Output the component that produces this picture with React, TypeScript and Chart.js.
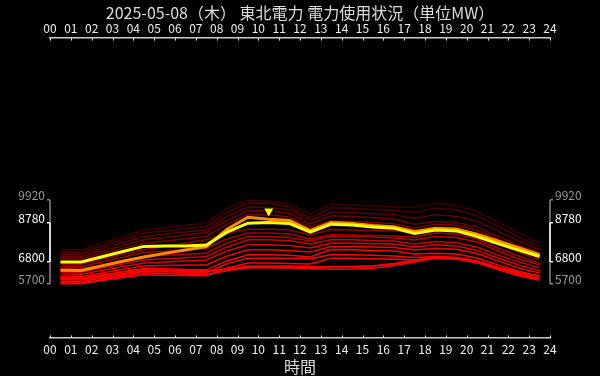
import { useEffect, useRef } from "react";
import { Chart, registerables } from "chart.js";

Chart.register(...registerables);

const TITLE = "2025-05-08（木） 東北電力 電力使用状況（単位MW）";
const X_TITLE = "時間";
const FONT = "'Noto Sans CJK JP', 'Noto Sans', sans-serif";

const hourLabels = ["00","01","02","03","04","05","06","07","08","09","10","11","12","13","14","15","16","17","18","19","20","21","22","23","24"];
const slotHours = [0.5,1.5,2.5,3.5,4.5,5.5,6.5,7.5,8.5,9.5,10.5,11.5,12.5,13.5,14.5,15.5,16.5,17.5,18.5,19.5,20.5,21.5,22.5,23.5];

const today = [6800,6800,7060,7320,7580,7600,7600,7650,8300,8750,8780,8730,8300,8700,8660,8560,8500,8230,8400,8360,8080,7720,7390,7070];
const yesterday = [6380,6370,6600,6830,7050,7230,7400,7570,8450,9050,8950,8880,8380,8780,8730,8630,8570,8330,8490,8460,8200,7850,7520,7170];

const past01 = [7410,7400,7730,8070,8410,8520,8640,8750,9500,9920,9850,9720,9220,9700,9670,9620,9570,9540,9750,9640,9350,8800,8250,7740];
const past02 = [7290,7280,7600,7930,8250,8360,8470,8580,9300,9750,9750,9560,9000,9520,9500,9450,9400,9300,9500,9420,9120,8600,8050,7570];
const past03 = [7190,7180,7480,7780,8080,8190,8300,8410,9100,9550,9550,9420,8880,9300,9280,9230,9180,9000,9170,9100,8850,8350,7850,7410];
const past04 = [7070,7060,7340,7620,7910,8030,8150,8280,8900,9380,9380,9250,8700,9120,9080,9020,8960,8700,8830,8780,8550,8100,7650,7240];
const past05 = [6960,6950,7210,7480,7740,7850,7970,8080,8700,9170,9170,9050,8550,8860,8830,8780,8720,8500,8700,8650,8380,7950,7450,7000];
const past06 = [6690,6680,6930,7170,7410,7580,7750,7910,8250,8450,8450,8400,8150,8430,8410,8380,8350,8300,8500,8450,8200,7750,7300,6900];
const past07 = [6570,6560,6800,7040,7270,7340,7410,7490,7950,8250,8250,8200,7950,8180,8160,8130,8100,8050,8250,8200,7950,7500,7100,6740];
const past08 = [6450,6440,6660,6870,7070,7130,7190,7240,7750,8080,8080,8030,7850,8090,8080,8050,8000,7900,8080,8030,7800,7350,6950,6650];
const past09 = [6290,6280,6490,6700,6900,6960,7010,7070,7550,7910,7910,7870,7700,7920,7910,7880,7850,7700,7830,7780,7550,7150,6800,6490];
const past10 = [6190,6180,6370,6560,6740,6790,6850,6900,7350,7660,7660,7630,7500,7750,7740,7720,7700,7550,7660,7600,7380,7000,6650,6350];
const past11 = [6070,6060,6240,6420,6600,6620,6640,6650,7100,7410,7410,7380,7300,7580,7570,7550,7530,7400,7490,7440,7220,6850,6500,6240];
const past12 = [5950,5940,6120,6300,6470,6450,6420,6400,6850,7160,7160,7130,7050,7420,7410,7380,7350,7200,7240,7200,7000,6650,6330,6070];
const past13 = [5820,5810,5980,6160,6320,6300,6270,6240,6700,6990,6990,6980,6950,7170,7160,7130,7100,7020,7070,7020,6820,6500,6180,5900];
const past14 = [5700,5700,5860,6010,6150,6130,6110,6100,6500,6740,6740,6720,6700,6990,6990,6960,6930,6900,6990,6950,6750,6420,6100,5880];
const past15 = [5750,5740,5900,6080,6250,6220,6180,6150,6350,6520,6540,6540,6520,6560,6570,6600,6700,6850,7000,6980,6800,6500,6200,5950];
const past16 = [5900,5890,6050,6200,6350,6330,6310,6300,6450,6580,6600,6600,6560,6540,6560,6600,6720,6900,7050,7020,6850,6550,6280,6050];
const past17 = [6000,5990,6150,6280,6400,6380,6360,6350,6420,6500,6500,6490,6470,6430,6440,6480,6620,6800,6990,6960,6780,6480,6250,6100];

const pastSeries = [past01,past02,past03,past04,past05,past06,past07,past08,past09,past10,past11,past12,past13,past14,past15,past16,past17];
const pastColors = ["#3c0000","#4c0000","#5c0000","#6c0000","#7c0000","#900000","#a40000","#b40000","#c80000","#dc0000","#ee0000","#ff0000","#ff0000","#ff0000","#ff0000","#ff0000","#ff0000"];

const outerTicks = [5700, 9920];
const innerTicks = [6800, 8780];

const toPoints = (arr: number[]) => arr.map((v, i) => ({ x: slotHours[i], y: v }));

const decorPlugin = {
  id: "decor",
  afterDraw(chart: any) {
    const { ctx, chartArea, scales } = chart;
    const ys = scales.y;
    const xs = scales.x;
    ctx.save();
    const seg = (x: number, a: number, b: number, color: string) => {
      ctx.strokeStyle = color;
      ctx.lineWidth = 1.5;
      ctx.beginPath();
      ctx.moveTo(x, ys.getPixelForValue(a));
      ctx.lineTo(x, ys.getPixelForValue(b));
      ctx.stroke();
    };
    for (const x of [chartArea.left, chartArea.right]) {
      seg(x, outerTicks[0], outerTicks[1], "#888");
      seg(x, innerTicks[0], innerTicks[1], "#fff");
    }
    ctx.strokeStyle = "#ddd";
    ctx.lineWidth = 1;
    for (const t of xs.ticks) {
      const px = Math.round(xs.getPixelForValue(t.value)) + 0.5;
      ctx.beginPath();
      ctx.moveTo(px, chartArea.top);
      ctx.lineTo(px, chartArea.top + 2.5);
      ctx.moveTo(px, chartArea.bottom);
      ctx.lineTo(px, chartArea.bottom - 2.5);
      ctx.stroke();
    }
    const peak = Math.max(...today);
    const idx = today.indexOf(peak);
    const px = xs.getPixelForValue(slotHours[idx]);
    const py = ys.getPixelForValue(peak);
    ctx.fillStyle = "#ffff00";
    ctx.beginPath();
    ctx.moveTo(px - 4.5, py - 14);
    ctx.lineTo(px + 4.5, py - 14);
    ctx.lineTo(px, py - 6);
    ctx.closePath();
    ctx.fill();
    ctx.restore();
  },
};

const yAxis = (position: "left" | "right") => ({
  type: "linear" as const,
  position,
  min: 2970,
  max: 18070,
  afterFit: (s: any) => { s.width = 50; },
  afterBuildTicks: (s: any) => {
    s.ticks = [...outerTicks, ...innerTicks].sort((a, b) => a - b).map((v) => ({ value: v }));
  },
  ticks: {
    color: (c: any) => (innerTicks.includes(c.tick?.value) ? "#ffffff" : "#999999"),
    font: { family: FONT, size: 12 },
    padding: 2,
    labelOffset: -4.5,
    autoSkip: false,
    callback: (v: any) => String(v),
  },
  grid: {
    display: true,
    drawOnChartArea: false,
    drawTicks: true,
    tickLength: 3,
    lineWidth: 1.5,
    color: (c: any) => (innerTicks.includes(c.tick?.value) ? "#ffffff" : "#888888"),
  },
  border: { display: false },
});

const xAxis = (position: "top" | "bottom", title: string, pad: number, titleLH: number, titlePad: any) => ({
  type: "linear" as const,
  position,
  min: 0,
  max: 24,
  afterFit: (s: any) => { s.height = 38; },
  afterBuildTicks: (s: any) => { s.ticks = hourLabels.map((_, i) => ({ value: i })); },
  ticks: {
    color: "#eeeeee",
    font: { family: FONT, size: 12 },
    padding: pad,
    autoSkip: false,
    maxRotation: 0,
    callback: (v: any) => hourLabels[v],
  },
  grid: { display: false, drawTicks: false },
  border: { display: true, color: "#cccccc", width: 1.5 },
  title: {
    display: true,
    text: title,
    color: "#dddddd",
    font: { family: FONT, size: 16, lineHeight: titleLH },
    padding: titlePad,
  },
});

export default function App() {
  const ref = useRef<HTMLCanvasElement>(null);
  useEffect(() => {
    if (!ref.current) return;
    const datasets: any[] = [
      { data: toPoints(today), borderColor: "#ffff00", borderWidth: 3 },
      { data: toPoints(yesterday), borderColor: "#ff8c00", borderWidth: 3 },
      ...pastSeries.slice().reverse().map((s, k) => ({
        data: toPoints(s),
        borderColor: pastColors[pastSeries.length - 1 - k],
        borderWidth: 1.5,
      })),
    ];
    const chart = new Chart(ref.current, {
      type: "line",
      data: { datasets },
      options: {
        responsive: false,
        animation: false,
        devicePixelRatio: 1,
        layout: { padding: 0 },
        elements: { point: { radius: 0 }, line: { tension: 0 } },
        plugins: { legend: { display: false }, tooltip: { enabled: false }, title: { display: false } },
        scales: {
          xTop: xAxis("top", TITLE, 2, 1.2, { top: 3, bottom: 0 }),
          x: xAxis("bottom", X_TITLE, 4, 1.1, { top: 0, bottom: 0 }),
          y: yAxis("left"),
          yRight: yAxis("right"),
        } as any,
      },
      plugins: [decorPlugin],
    });
    return () => chart.destroy();
  }, []);
  return (
    <div style={{ position: "fixed", left: 0, top: 0, width: 600, height: 376, background: "#000" }}>
      <canvas ref={ref} width={600} height={376} style={{ display: "block" }} />
    </div>
  );
}
